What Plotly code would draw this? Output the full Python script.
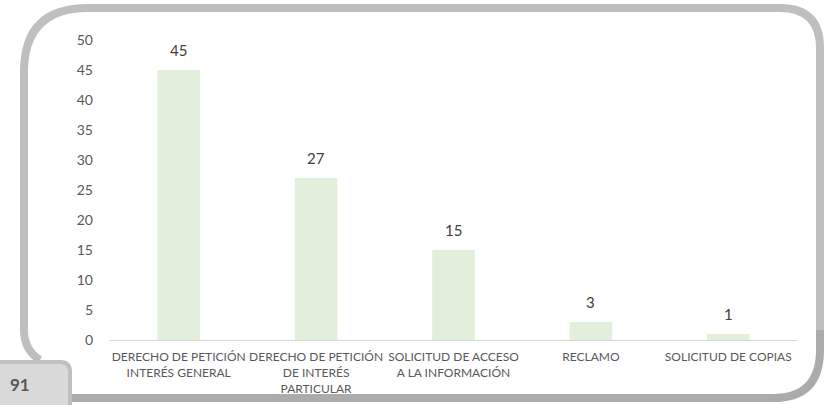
import plotly.graph_objects as go

categories = [
    "DERECHO DE PETICIÓN<br>INTERÉS GENERAL",
    "DERECHO DE PETICIÓN<br>DE INTERÉS<br>PARTICULAR",
    "SOLICITUD DE ACCESO<br>A LA INFORMACIÓN",
    "RECLAMO",
    "SOLICITUD DE COPIAS",
]
values = [45, 27, 15, 3, 1]
y_ticks = [0, 5, 10, 15, 20, 25, 30, 35, 40, 45, 50]
page_number = "91"

W, H = 824, 405
L, R, T, B = 110, 27, 40, 65
PW, PH = W - L - R, H - T - B


def px(x):
    return (x - L) / PW


def py(y):
    return (H - B - y) / PH


def path(cmds):
    out = []
    for c in cmds:
        if isinstance(c, str):
            out.append(c)
        else:
            out.append(f"{px(c[0]):.5f},{py(c[1]):.5f}")
    return " ".join(out)


fig = go.Figure()
fig.add_trace(go.Bar(
    x=categories, y=values,
    marker=dict(color="#E2EFDA", line=dict(width=0)),
    hoverinfo="skip",
))

for c, v in zip(categories, values):
    fig.add_annotation(
        x=c, y=v, text=str(v), showarrow=False, yanchor="bottom", yshift=9,
        font=dict(family="Lato, Open Sans, sans-serif", size=15, color="#404040"),
    )

shapes = []
# main frame
frame = path(["M", (40, 360), "Q", (24, 350), (24, 330), "L", (24, 72),
              "Q", (24, 8), (88, 8), "L", (780, 8), "Q", (820, 8), (820, 48),
              "L", (820, 340)])
shapes.append(dict(type="path", path=frame, xref="paper", yref="paper",
                   line=dict(color="#BFBFBF", width=8), layer="above"))
frame2 = path(["M", (820, 330), "L", (820, 350), "Q", (820, 398), (773, 398), "L", (60, 398)])
shapes.append(dict(type="path", path=frame2, xref="paper", yref="paper",
                   line=dict(color="#ABABAB", width=8), layer="above"))
# page tab
tab = path(["M", (-10, 362), "L", (60, 362), "Q", (70, 362), (70, 372),
            "L", (70, 420), "L", (-10, 420), "Z"])
shapes.append(dict(type="path", path=tab, xref="paper", yref="paper",
                   fillcolor="#D9D9D9", line=dict(color="#BFBFBF", width=4), layer="above"))

fig.add_annotation(
    x=px(20), y=py(384), xref="paper", yref="paper", text=f"<b>{page_number}</b>",
    showarrow=False, xanchor="center", yanchor="middle",
    font=dict(family="Lato, Open Sans, sans-serif", size=17, color="#595959"),
)

fig.update_layout(
    width=W, height=H,
    margin=dict(l=L, r=R, t=T, b=B, pad=0),
    paper_bgcolor="white", plot_bgcolor="white",
    bargap=0.69,
    showlegend=False,
    shapes=shapes,
    font=dict(family="Lato, Open Sans, sans-serif", color="#595959"),
    xaxis=dict(
        showgrid=False, showline=True, linecolor="#D9D9D9", linewidth=1,
        ticks="", tickfont=dict(size=12, color="#595959"), tickangle=0,
        ticklabelstandoff=6, automargin=False, fixedrange=True,
    ),
    yaxis=dict(
        range=[0, 50], tickvals=y_ticks, showgrid=False, zeroline=False,
        showline=False, ticks="", tickfont=dict(size=14, color="#595959"),
        ticklabelstandoff=16, automargin=False, fixedrange=True,
    ),
)

fig.write_html(
    "out.html",
    config={"displayModeBar": False},
    post_script="document.body.style.margin='0px';document.body.style.overflow='hidden';",
)
